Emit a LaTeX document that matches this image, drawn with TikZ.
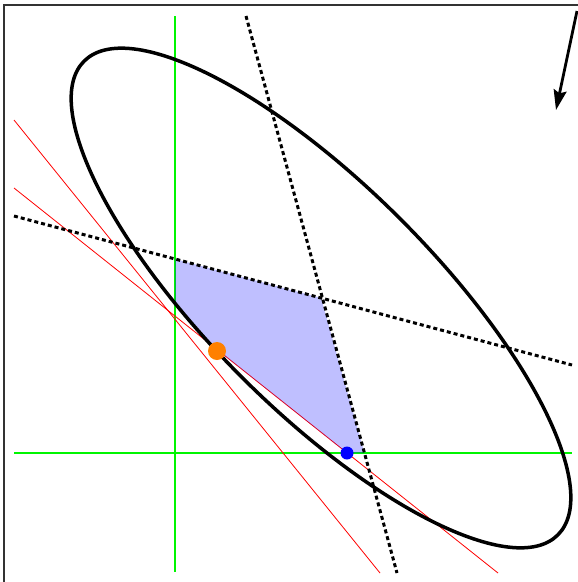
\documentclass[tikz,border=0pt]{standalone}
\usetikzlibrary{arrows.meta}
\definecolor{axisgreen}{RGB}{0,245,0}
\begin{document}
\begin{tikzpicture}[x=1pt, y=-1pt,
    axisline/.style={draw=axisgreen, line width=1.3pt},
    cut/.style={red, line width=0.8pt},
    level/.style={black, line width=3pt, dash pattern=on 4pt off 3pt}]
        \useasboundingbox (0,0) rectangle (578,582);
        % Points (same layout as the plot)
        \coordinate (C) at (321,298);
        \coordinate (P1) at (175,259);
        \coordinate (P3) at (364.5,453);
        \coordinate (P4) at (347,453);
        \coordinate (P5) at (175,316);
        
        % Frame
        \draw[line width=1.2pt, black!80] (4,582) -- (4,5) -- (578,5);
        
        % Axes
        \draw[axisline] (175,16) -- (175,572);
        \draw[axisline] (14,453) -- (572,453);
        
        % Secant lines
        \draw[cut] (14,120) -- (380,573);
        \draw[cut] (14,188) -- (498,573);
        
        % Feasible region
        \begin{scope}
            \clip[rotate around={-45:(C)}] (C) ellipse [x radius=335, y radius=112];
            \fill[blue, fill opacity=0.25] (P1) -- (C) -- (P3) -- (P4) -- (P5) -- cycle;
        \end{scope}
        
        % Level lines
        \draw[level] (14,216) -- (572,365);
        \draw[level] (246,16) -- (397,573);
        
        % Ellipse
        \draw[line width=3.5pt, rotate around={-45:(C)}] (C) ellipse [x radius=335, y radius=112];
        
        % Points
        \fill[orange] (217,351) circle (9);
        \fill[blue] (P4) circle (6.5);
        
        % Direction arrow
        \draw[line width=2.8pt, -{Stealth[length=20pt, width=13pt, inset=3pt]}] (577,11) -- (556,110);
    \end{tikzpicture}
\end{document}
